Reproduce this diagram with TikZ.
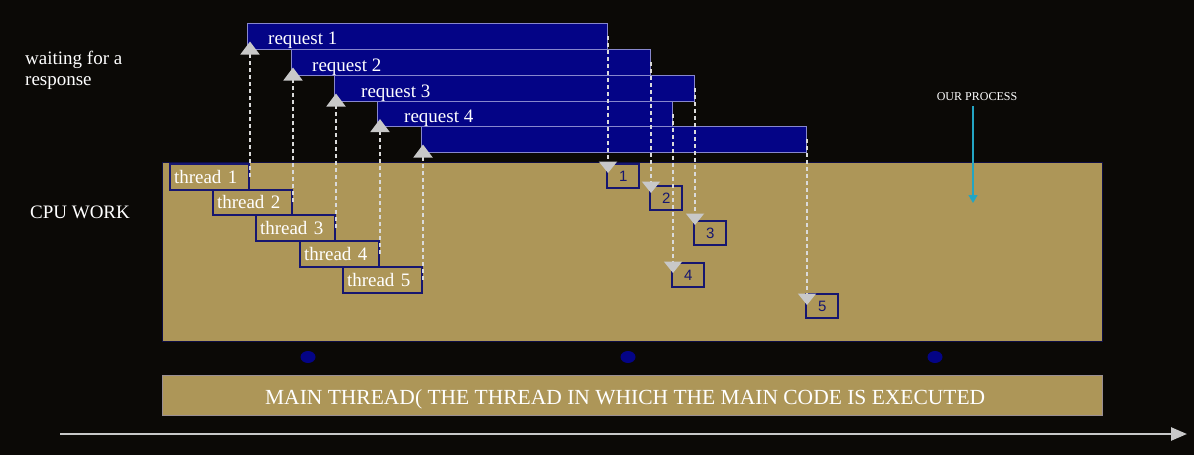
\documentclass[tikz,border=0pt]{standalone}
\usepackage{fontspec}
\setmainfont{Liberation Serif}
\newfontfamily\digitfont{Liberation Sans}
\usetikzlibrary{arrows.meta,calc,positioning,shapes.geometric}

\definecolor{bgblack}{RGB}{11,9,6}
\definecolor{cputan}{RGB}{173,150,88}
\definecolor{reqblue}{RGB}{4,4,134}
\definecolor{reqedge}{RGB}{135,135,205}
\definecolor{navyedge}{RGB}{22,22,112}
\definecolor{tipgray}{RGB}{200,200,200}
\definecolor{dashgray}{RGB}{218,218,218}
\definecolor{cyanarr}{RGB}{35,165,195}

\begin{document}
\begin{tikzpicture}[x=1pt, y=-1pt,
  font=\fontsize{19}{21}\selectfont,
  req/.style={draw=reqedge, line width=1pt, fill=reqblue, anchor=north west,
              minimum height=25.5pt, inner sep=0pt},
  reqlbl/.style={text=white, inner sep=0pt, anchor=west, yshift=-4.5pt},
  thr/.style={draw=navyedge, line width=2pt, fill=cputan, anchor=north west,
              text width=71pt, inner xsep=4pt, inner ysep=0pt, align=left,
              minimum height=25.5pt, text=white},
  numbox/.style={draw=navyedge, line width=2.4pt, anchor=north west,
                 minimum width=32pt, minimum height=24pt, inner sep=0pt,
                 text=navyedge, font=\digitfont\fontsize{15}{15}\selectfont},
  bigbox/.style={fill=cputan, anchor=north west, minimum width=940pt, inner sep=0pt},
  lbl/.style={text=white, inner sep=0pt},
  dot/.style={ellipse, fill=reqblue, minimum width=15pt, minimum height=12pt, inner sep=0pt},
  uparr/.style={dashgray, line width=2pt, dash pattern=on 4pt off 3pt,
                -{Triangle[width=19pt,length=13pt,color=tipgray]}},
  dnarr/.style={dashgray, line width=2pt, dash pattern=on 4pt off 3pt,
                -{Triangle[width=18pt,length=11.5pt,color=tipgray]}},
  procarr/.style={cyanarr, line width=1.3pt, -{Triangle[width=9pt,length=8pt]}},
  timearr/.style={tipgray, line width=2.5pt, -{Triangle[width=13pt,length=16pt]}},
]
% background, fixes the page size
\fill[bgblack] (0,0) rectangle (1194,455);

% ---- work areas ----
\node[bigbox, draw=navyedge!60!black, thin, minimum height=179pt] (cpu) at (162,162) {};
\node[bigbox, draw=reqedge!50!cputan, thin, minimum height=40pt] (main) at (162,375) {};
\node[lbl, font=\fontsize{21.5}{23}\selectfont] (mainlbl) at ($(main.center)+(-7,4)$)
  {MAIN THREAD( THE THREAD IN WHICH THE MAIN CODE IS EXECUTED};

% ---- requests (waiting for a response) ----
\foreach \i/\xl/\yt/\w in {1/247/23/360, 2/291/49/359, 3/334/75/360, 4/377/100.5/295, 5/421/126/385}
  \node[req, minimum width={\w pt}] (r\i) at (\xl,\yt) {};
\node[reqlbl, right=21pt of r1.west] (rl1) {request 1};
\node[reqlbl, right=21pt of r2.west] (rl2) {request 2};
\node[reqlbl, right=27pt of r3.west] (rl3) {request 3};
\node[reqlbl, right=27pt of r4.west] (rl4) {request 4};

% ---- threads ----
\foreach \i/\xl/\yt in {1/169/163, 2/212/188.5, 3/255/214, 4/299/240, 5/342/266}
  \node[thr] (t\i) at (\xl,\yt) {thread \i};

% ---- responses ----
\foreach \i/\xl/\yt in {1/606/163, 2/649/185, 3/693/220, 4/671/262, 5/805/293}
  \node[numbox] (n\i) at (\xl,\yt) {\i};

% thread -> request
\foreach \i in {1,...,5}
  \draw[uparr] (t\i.east) -- ($(t\i.east |- r\i.south)+(0,-8)$);
% request -> response
\foreach \i/\d in {1/10, 2/8, 3/5, 4/11, 5/12}
  \draw[dnarr] (r\i.east) -- ($(r\i.east |- n\i.north)+(0,\d)$);

% ---- side labels ----
\node[lbl, anchor=north west, align=left] (wait) at (25,51) {waiting for a\\response};
\node[lbl] (cpuw) at (80,212) {CPU WORK};
\node[lbl, font=\fontsize{12}{13}\selectfont] (proc) at (977,97) {OUR PROCESS};
\coordinate (proctip) at (973,203);
\draw[procarr] (proc.south -| proctip) ++(0,5) -- (proctip);

% ---- main thread events ----
\node[dot] (d1) at (308,357) {};
\node[dot] (d2) at (628,357) {};
\node[dot] (d3) at (935,357) {};

% ---- time axis ----
\coordinate (tstart) at (60,434);
\coordinate (tend) at (1187,434);
\draw[timearr] (tstart) -- (tend);
\end{tikzpicture}
\end{document}
